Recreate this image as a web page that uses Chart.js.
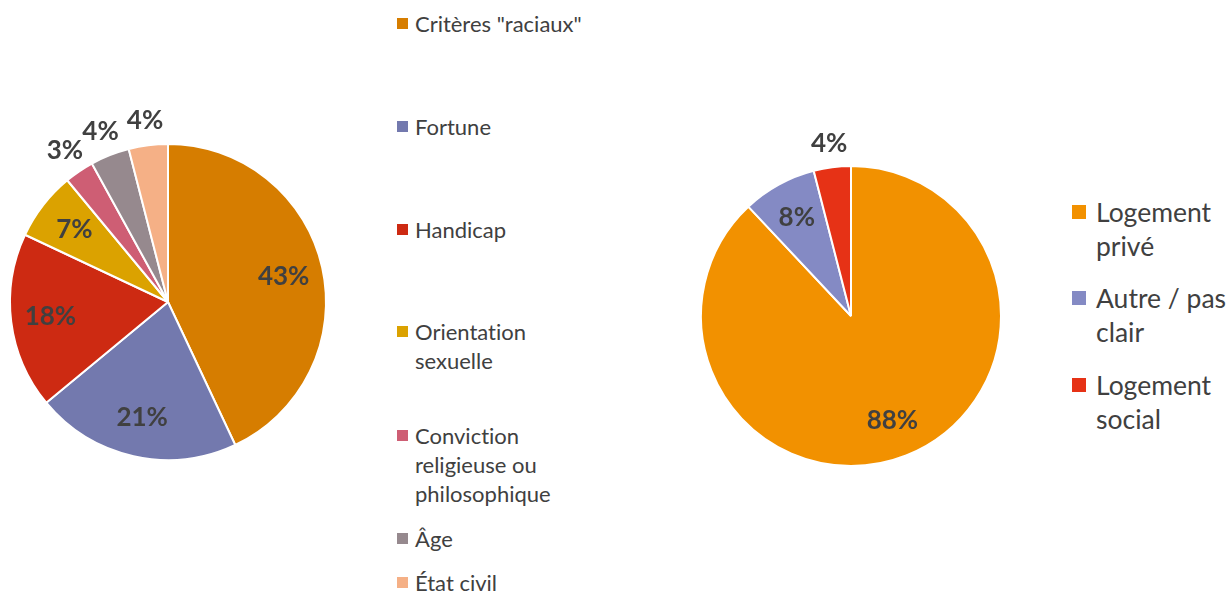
<!DOCTYPE html>
<html>
<head>
<meta charset="utf-8">
<script src="https://cdn.jsdelivr.net/npm/chart.js@4"></script>
<style>
  body { margin: 0; background: #fff; width: 1231px; height: 591px; position: relative; overflow: hidden; font-family: Lato, sans-serif; color: #404040; font-variant-ligatures: none; }
  canvas { position: absolute; }
  .legend { position: absolute; }
  .legend .item { position: absolute; left: 0; white-space: nowrap; }
  .legend .box { position: absolute; left: 0; }
</style>
</head>
<body>
<canvas id="motifChart" width="390" height="591" style="left:0;top:0"></canvas>
<canvas id="logementChart" width="400" height="591" style="left:651px;top:0"></canvas>
<div id="motifLegend" class="legend" style="left:397px;top:0"></div>
<div id="logementLegend" class="legend" style="left:1072px;top:0"></div>
<script>
// Motifs de discrimination (%)
const motifLabels = [
    ['Critères "raciaux"'],
    ['Fortune'],
    ['Handicap'],
    ['Orientation', 'sexuelle'],
    ['Conviction', 'religieuse ou', 'philosophique'],
    ['Âge'],
    ['État civil']
];
const motifValues = [43, 21, 18, 7, 3, 4, 4];
const motifColors = ['#D67D00', '#7379AE', '#CD2A12', '#DBA200', '#CE5E74', '#96898E', '#F5B086'];

// Type de logement (%)
const logementLabels = [
    ['Logement', 'privé'],
    ['Autre / pas', 'clair'],
    ['Logement', 'social']
];
const logementValues = [88, 8, 4];
const logementColors = ['#F29100', '#848AC4', '#E63216'];

// percentage labels: inside big slices, just outside the small ones
const pctLabels = {
    id: 'pctLabels',
    afterDatasetsDraw(chart) {
        const c = chart.ctx;
        const meta = chart.getDatasetMeta(0);
        const values = chart.data.datasets[0].data;
        c.save();
        c.font = 'bold 26px Lato';
        c.fillStyle = '#404040';
        c.textAlign = 'center';
        c.textBaseline = 'middle';
        meta.data.forEach((arc, i) => {
            const p = arc.getProps(['x', 'y', 'startAngle', 'endAngle', 'outerRadius'], true);
            const mid = (p.startAngle + p.endAngle) / 2;
            const d = p.outerRadius * (values[i] >= 5 ? 0.75 : 1.16);
            c.fillText(values[i] + '%', p.x + Math.cos(mid) * d, p.y + Math.sin(mid) * d);
        });
        c.restore();
    }
};

function makePie(id, labels, values, colors, radius, padding) {
    return new Chart(document.getElementById(id), {
        type: 'pie',
        data: {
            labels: labels,
            datasets: [{
                data: values,
                backgroundColor: colors,
                borderColor: '#ffffff',
                borderWidth: 2,
                radius: radius
            }]
        },
        options: {
            responsive: false,
            animation: false,
            layout: { padding: padding },
            plugins: {
                legend: { display: false },
                tooltip: { enabled: false }
            }
        },
        plugins: [pctLabels]
    });
}

function makeLegend(id, labels, colors, tops, fontSize, lineHeight, box, textLeft) {
    const el = document.getElementById(id);
    labels.forEach((lines, i) => {
        const item = document.createElement('div');
        item.className = 'item';
        item.style.top = tops[i] + 'px';
        item.style.fontSize = fontSize + 'px';
        item.style.lineHeight = lineHeight + 'px';
        item.style.paddingLeft = textLeft + 'px';
        const sq = document.createElement('span');
        sq.className = 'box';
        sq.style.width = box + 'px';
        sq.style.height = box + 'px';
        sq.style.top = ((lineHeight - box) / 2) + 'px';
        sq.style.background = colors[i];
        item.appendChild(sq);
        lines.forEach((line, j) => {
            if (j) item.appendChild(document.createElement('br'));
            item.appendChild(document.createTextNode(line));
        });
        el.appendChild(item);
    });
}

makePie('motifChart', motifLabels, motifValues, motifColors, 158, { left: 0, right: 54, top: 13, bottom: 0 });
makePie('logementChart', logementLabels, logementValues, logementColors, 150, { left: 0, right: 0, top: 41, bottom: 0 });

makeLegend('motifLegend', motifLabels, motifColors, [9, 112, 215, 317, 421, 524, 568], 22, 29, 11, 18);
makeLegend('logementLegend', logementLabels, logementColors, [195, 281, 368], 26.5, 34, 14, 24);
</script>
</body>
</html>
